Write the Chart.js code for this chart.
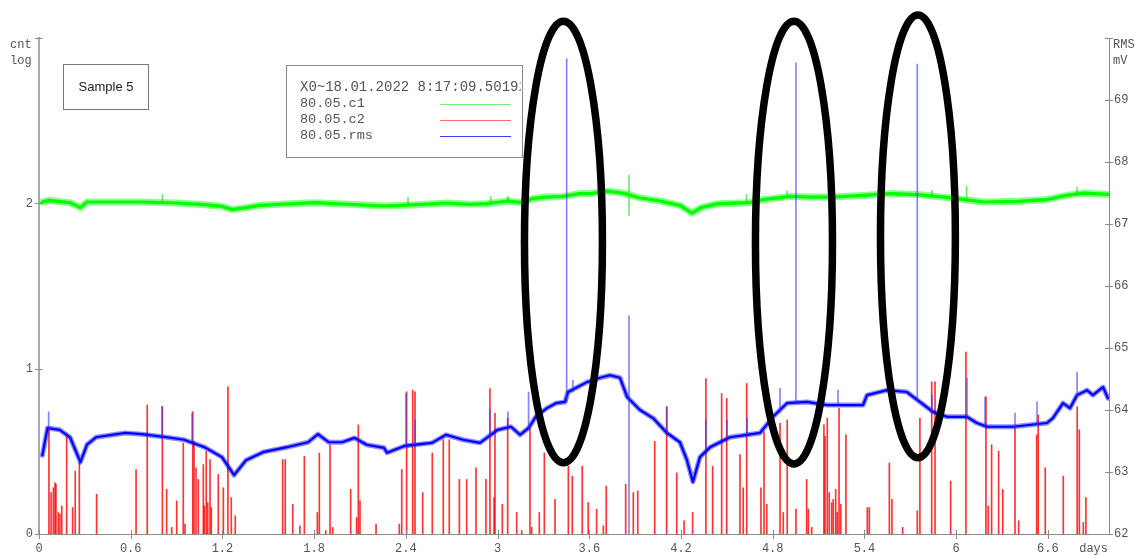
<!DOCTYPE html>
<html>
<head>
<meta charset="utf-8">
<script src="https://cdn.jsdelivr.net/npm/chart.js@4/dist/chart.umd.min.js"></script>
<style>
  html, body { margin: 0; padding: 0; background: #fff; }
  #wrap { width: 1135px; height: 555px; position: relative; }
</style>
</head>
<body>
<div id="wrap"><canvas id="c" width="1135" height="555"></canvas></div>
<script>
// Time axis: days since X0
const xTicks = [0, 0.6, 1.2, 1.8, 2.4, 3, 3.6, 4.2, 4.8, 5.4, 6, 6.6];
// Left axis: log10 of counts
const cntTicks = [0, 1, 2, 3];
// Right axis: RMS in mV
const rmsTicks = [62, 63, 64, 65, 66, 67, 68, 69, 70];

const seriesNames = ['80.05.c1', '80.05.c2', '80.05.rms'];
const startStamp = 'X0~18.01.2022 8:17:09.50192';
const sampleName = 'Sample 5';

// 80.05.c1 — log counts [day, value]
const c1Trace = [
  [0.022, 2.008], [0.065, 2.018], [0.203, 2.004], [0.271, 1.974], [0.314, 2.008],
  [0.451, 2.008], [0.676, 2.008], [0.903, 2.002], [1.083, 1.992], [1.196, 1.982],
  [1.263, 1.962], [1.354, 1.974], [1.444, 1.988], [1.577, 1.994], [1.806, 2.004],
  [2.028, 1.994], [2.256, 1.984], [2.479, 1.992], [2.663, 2.002], [2.820, 1.994],
  [2.931, 1.998], [3.068, 2.014], [3.158, 2.004], [3.225, 2.028], [3.317, 2.038],
  [3.428, 2.042], [3.537, 2.059], [3.609, 2.059], [3.722, 2.074], [3.834, 2.059],
  [3.925, 2.034], [4.061, 2.014], [4.193, 1.988], [4.272, 1.941], [4.331, 1.974],
  [4.442, 1.998], [4.645, 2.004], [4.736, 2.022], [4.918, 2.042], [5.050, 2.038],
  [5.188, 2.038], [5.391, 2.048], [5.572, 2.059], [5.750, 2.053], [5.953, 2.034],
  [6.181, 2.008], [6.405, 2.012], [6.588, 2.022], [6.723, 2.048], [6.835, 2.062],
  [6.993, 2.054]
];
// short excursions of c1 [day, low, high]
const c1Spikes = [
  [0.808, 2.004, 2.054], [2.414, 1.992, 2.038], [2.955, 1.998, 2.042], [3.068, 2.010, 2.042],
  [3.860, 1.927, 2.169], [4.629, 2.004, 2.054], [4.893, 2.040, 2.074], [5.842, 2.040, 2.078],
  [6.068, 2.008, 2.103], [6.791, 2.050, 2.098]
];

// 80.05.c2 — log counts [day, value]
const c2Counts = [
  [0.065, 0.63], [0.079, 0.25], [0.094, 0.28], [0.105, 0.31], [0.111, 0.30], [0.126, 0.13],
  [0.137, 0.12], [0.149, 0.17], [0.181, 0.59], [0.220, 0.16], [0.237, 0.38], [0.264, 0.43],
  [0.377, 0.24], [0.635, 0.39], [0.708, 0.78], [0.807, 0.77], [0.835, 0.27], [0.868, 0.04],
  [0.901, 0.20], [0.944, 0.55], [0.955, 0.06], [1.006, 0.74], [1.014, 0.56], [1.027, 0.40],
  [1.042, 0.33], [1.075, 0.42], [1.081, 0.17], [1.094, 0.50], [1.104, 0.19], [1.119, 0.45],
  [1.127, 0.16], [1.173, 0.36], [1.206, 0.28], [1.236, 0.89], [1.258, 0.22], [1.284, 0.11],
  [1.594, 0.45], [1.611, 0.45], [1.660, 0.18], [1.707, 0.05], [1.736, 0.47], [1.821, 0.13],
  [1.834, 0.49], [1.876, 0.02], [1.904, 0.54], [1.921, 0.04], [2.039, 0.27], [2.078, 0.10],
  [2.089, 0.66], [2.100, 0.20], [2.205, 0.06], [2.357, 0.06], [2.373, 0.39], [2.405, 0.86],
  [2.445, 0.87], [2.460, 0.86], [2.510, 0.25], [2.573, 0.49], [2.645, 0.57], [2.684, 0.57],
  [2.750, 0.33], [2.798, 0.33], [2.859, 0.40], [2.924, 0.33], [2.950, 0.88], [2.977, 0.22],
  [2.983, 0.73], [3.031, 0.18], [3.066, 0.70], [3.125, 0.13], [3.158, 0.02], [3.212, 0.64],
  [3.223, 0.04], [3.273, 0.13], [3.306, 0.49], [3.376, 0.21], [3.463, 0.41], [3.489, 0.35],
  [3.554, 0.41], [3.593, 0.19], [3.648, 0.15], [3.692, 0.05], [3.711, 0.29], [3.838, 0.30],
  [3.888, 0.25], [3.917, 0.26], [4.028, 0.56], [4.106, 0.77], [4.172, 0.37], [4.220, 0.08],
  [4.276, 0.13], [4.363, 0.94], [4.407, 0.41], [4.466, 0.85], [4.499, 0.82], [4.586, 0.48],
  [4.607, 0.28], [4.630, 0.91], [4.723, 0.28], [4.743, 0.62], [4.761, 0.18], [4.848, 0.67],
  [4.869, 0.13], [4.895, 0.69], [4.952, 0.15], [5.022, 0.33], [5.033, 0.15], [5.055, 0.04],
  [5.135, 0.66], [5.142, 0.59], [5.157, 0.70], [5.170, 0.25], [5.186, 0.19], [5.196, 0.21],
  [5.212, 0.27], [5.222, 0.13], [5.234, 0.76], [5.245, 0.18], [5.279, 0.60], [5.419, 0.16],
  [5.432, 0.16], [5.563, 0.43], [5.580, 0.21], [5.650, 0.04], [5.746, 0.14], [5.763, 0.70],
  [5.840, 0.92], [5.862, 0.92], [5.964, 0.32], [6.064, 1.10], [6.195, 0.83], [6.210, 0.17],
  [6.232, 0.54], [6.278, 0.50], [6.305, 0.27], [6.385, 0.64], [6.409, 0.08], [6.527, 0.60],
  [6.537, 0.72], [6.583, 0.40], [6.701, 0.35], [6.792, 0.77], [6.806, 0.63], [6.832, 0.07],
  [6.849, 0.22]
];

// 80.05.rms — mV [day, value]
const rmsTrace = [
  [0.022, 63.27], [0.056, 63.71], [0.135, 63.68], [0.203, 63.56], [0.271, 63.16], [0.314, 63.44],
  [0.373, 63.56], [0.563, 63.63], [0.674, 63.61], [0.835, 63.56], [0.949, 63.52], [1.083, 63.40],
  [1.197, 63.24], [1.276, 62.95], [1.354, 63.19], [1.465, 63.32], [1.622, 63.40], [1.760, 63.48],
  [1.825, 63.61], [1.895, 63.48], [1.982, 63.48], [2.064, 63.55], [2.143, 63.44], [2.257, 63.39],
  [2.277, 63.31], [2.391, 63.42], [2.571, 63.47], [2.663, 63.60], [2.774, 63.52], [2.885, 63.47],
  [3.000, 63.68], [3.088, 63.73], [3.147, 63.60], [3.203, 63.71], [3.249, 63.89], [3.323, 64.03],
  [3.382, 64.11], [3.441, 64.13], [3.461, 64.29], [3.585, 64.45], [3.670, 64.52], [3.735, 64.56],
  [3.801, 64.52], [3.847, 64.21], [3.932, 64.00], [4.017, 63.87], [4.108, 63.63], [4.193, 63.48],
  [4.239, 63.19], [4.278, 62.84], [4.324, 63.24], [4.390, 63.40], [4.520, 63.56], [4.632, 63.60],
  [4.717, 63.63], [4.802, 63.89], [4.893, 64.11], [5.024, 64.13], [5.155, 64.08], [5.391, 64.08],
  [5.417, 64.24], [5.548, 64.32], [5.678, 64.29], [5.763, 64.13], [5.848, 63.97], [5.940, 63.89],
  [6.071, 63.89], [6.136, 63.79], [6.202, 63.73], [6.372, 63.73], [6.594, 63.79], [6.633, 63.87],
  [6.699, 64.11], [6.745, 64.03], [6.791, 64.24], [6.856, 64.32], [6.895, 64.24], [6.961, 64.37],
  [6.993, 64.19]
];
// short excursions of rms [day, low, high]
const rmsSpikes = [
  [0.063, 63.71, 63.97], [0.805, 63.58, 64.06], [1.001, 63.50, 63.95], [2.401, 63.42, 64.27],
  [2.460, 63.44, 63.85], [2.950, 63.56, 64.00], [3.068, 63.71, 63.97], [3.203, 63.71, 64.29],
  [3.452, 64.13, 69.67], [3.493, 64.29, 64.48], [3.860, 62.00, 65.52], [4.108, 63.63, 64.05],
  [4.363, 63.35, 63.84], [4.501, 63.55, 63.84], [4.632, 63.60, 63.87], [4.848, 63.97, 64.35],
  [4.952, 64.13, 69.60], [5.227, 64.08, 64.32], [5.746, 64.16, 69.58], [5.842, 63.97, 64.24],
  [6.071, 63.89, 64.52], [6.189, 63.74, 64.21], [6.385, 63.73, 63.95], [6.529, 63.76, 64.13],
  [6.791, 64.23, 64.61]
];

// hand-drawn rings around the three rms peaks [day, mV, half-width days, half-height mV]
const rings = [
  [3.431, 66.71, 0.255, 3.56],
  [4.939, 66.70, 0.252, 3.57],
  [5.750, 66.80, 0.245, 3.57]
];

const mono = "'Liberation Mono', 'DejaVu Sans Mono', monospace";
const axisGrey = '#8c8c8c';
const textGrey = '#555';

const pts = a => a.map(([x, y]) => ({ x, y }));
const spans = a => a.map(([x, lo, hi]) => ({ x, y: [lo, hi] }));

// tick marks crossing each axis line, plus the boxed texts and the rings
const decor = {
  id: 'decor',
  afterDraw(chart) {
    const { ctx, chartArea: ca, scales } = chart;
    const sx = scales.x, yl = scales.yL, yr = scales.yR;
    ctx.save();
    ctx.strokeStyle = axisGrey;
    ctx.lineWidth = 1;
    ctx.beginPath();
    xTicks.forEach(v => {
      const px = Math.round(sx.getPixelForValue(v)) + 0.5;
      ctx.moveTo(px, ca.bottom - 4); ctx.lineTo(px, ca.bottom + 5);
    });
    cntTicks.forEach(v => {
      const py = Math.round(yl.getPixelForValue(v)) + 0.5;
      ctx.moveTo(ca.left - 4, py); ctx.lineTo(ca.left + 4, py);
    });
    rmsTicks.forEach(v => {
      const py = Math.round(yr.getPixelForValue(v)) + 0.5;
      ctx.moveTo(ca.right - 4, py); ctx.lineTo(ca.right + 4, py);
    });
    ctx.stroke();

    // axis titles
    ctx.fillStyle = textGrey;
    ctx.font = '12px ' + mono;
    ctx.textBaseline = 'middle';
    ctx.textAlign = 'left';
    ctx.fillText('cnt', 10, 45);
    ctx.fillText('log', 10, 61);
    ctx.fillText('RMS', ca.right + 4, 45);
    ctx.fillText('mV', ca.right + 4, 61);
    ctx.textAlign = 'right';
    ctx.fillText('days', ca.right - 1, 549);

    // sample box
    ctx.strokeStyle = '#777';
    ctx.lineWidth = 1;
    ctx.strokeRect(63.5, 64.5, 85, 45);
    ctx.fillStyle = '#222';
    ctx.font = "13px 'Liberation Sans', Arial, sans-serif";
    ctx.textAlign = 'center';
    ctx.fillText(sampleName, 106, 87);

    // series box
    const bx = 286.5, by = 65.5, bw = 236, bh = 92;
    ctx.strokeStyle = '#888';
    ctx.strokeRect(bx, by, bw, bh);
    ctx.save();
    ctx.beginPath();
    ctx.rect(bx, by, bw - 2, bh);
    ctx.clip();
    ctx.fillStyle = textGrey;
    ctx.font = '14px ' + mono;
    ctx.textAlign = 'left';
    ctx.fillText(startStamp, 300, 87);
    ctx.restore();
    const rowColors = ['rgb(120,235,120)', 'rgb(255,110,110)', 'rgb(60,60,255)'];
    ctx.font = '13.5px ' + mono;
    ctx.textAlign = 'left';
    seriesNames.forEach((name, i) => {
      const ty = 103 + i * 16;
      ctx.fillStyle = textGrey;
      ctx.fillText(name, 300, ty);
      ctx.strokeStyle = rowColors[i];
      ctx.lineWidth = 1.2;
      ctx.beginPath();
      ctx.moveTo(440, ty + 1.5); ctx.lineTo(511, ty + 1.5);
      ctx.stroke();
    });

    // rings
    ctx.strokeStyle = '#000';
    ctx.lineWidth = 7.5;
    rings.forEach(([d, mv, hw, hh]) => {
      const cx = sx.getPixelForValue(d), cy = yr.getPixelForValue(mv);
      const rx = sx.getPixelForValue(d + hw) - cx;
      const ry = cy - yr.getPixelForValue(mv + hh);
      ctx.beginPath();
      ctx.ellipse(cx, cy, rx, ry, 0, 0, Math.PI * 2);
      ctx.stroke();
    });
    ctx.restore();
  }
};

const lineStyle = { type: 'line', pointRadius: 0, tension: 0, borderJoinStyle: 'round', borderCapStyle: 'round' };

new Chart(document.getElementById('c'), {
  type: 'line',
  data: {
    datasets: [
      { label: seriesNames[2] + ' peaks', type: 'bar', data: spans(rmsSpikes), yAxisID: 'yR',
        backgroundColor: 'rgba(50,50,255,0.6)', barThickness: 1, grouped: false, borderWidth: 0, order: 0 },
      { ...lineStyle, label: seriesNames[2], data: pts(rmsTrace), yAxisID: 'yR',
        borderColor: '#0000ff', borderWidth: 2.2, order: 1 },
      { ...lineStyle, label: seriesNames[2] + ' band', data: pts(rmsTrace), yAxisID: 'yR',
        borderColor: 'rgba(0,0,255,0.45)', borderWidth: 5, order: 1.5 },
      { label: seriesNames[1], type: 'bar', data: pts(c2Counts), yAxisID: 'yL',
        backgroundColor: 'rgba(255,0,0,0.8)', barThickness: 1, grouped: false, borderWidth: 0, order: 2 },
      { label: seriesNames[0] + ' peaks', type: 'bar', data: spans(c1Spikes), yAxisID: 'yL',
        backgroundColor: 'rgba(0,230,0,0.6)', barThickness: 1, grouped: false, borderWidth: 0, order: 3 },
      { ...lineStyle, label: seriesNames[0], data: pts(c1Trace), yAxisID: 'yL',
        borderColor: '#00ff00', borderWidth: 3.2, order: 4 },
      { ...lineStyle, label: seriesNames[0] + ' band', data: pts(c1Trace), yAxisID: 'yL',
        borderColor: 'rgba(0,255,0,0.45)', borderWidth: 7, order: 4.5 }
    ]
  },
  options: {
    responsive: false,
    animation: false,
    events: [],
    layout: { padding: { top: 38, left: 0, right: 0, bottom: 0 } },
    plugins: { legend: { display: false }, tooltip: { enabled: false }, title: { display: false } },
    scales: {
      x: {
        type: 'linear', min: 0, max: 7, offset: false,
        grid: { display: false, drawTicks: false },
        border: { display: true, color: axisGrey, width: 1 },
        ticks: { font: { family: mono, size: 12 }, color: textGrey, padding: 8, maxRotation: 0, autoSkip: false,
                 callback: v => String(+Number(v).toFixed(1)) },
        afterBuildTicks: s => { s.ticks = xTicks.map(v => ({ value: v })); },
        afterFit: s => { s.height = 21; }
      },
      yL: {
        type: 'linear', position: 'left', min: 0, max: 3,
        grid: { display: false, drawTicks: false },
        border: { display: true, color: '#aaa', width: 2 },
        ticks: { font: { family: mono, size: 12 }, color: textGrey, padding: 6,
                 callback: v => (v === 3 ? '' : String(v)) },
        afterBuildTicks: s => { s.ticks = cntTicks.map(v => ({ value: v })); },
        afterFit: s => { s.width = 39; }
      },
      yR: {
        type: 'linear', position: 'right', min: 62, max: 70,
        grid: { display: false, drawTicks: false },
        border: { display: true, color: axisGrey, width: 1 },
        ticks: { font: { family: mono, size: 12 }, color: textGrey, padding: 5,
                 callback: v => (v === 70 ? '' : String(v)) },
        afterBuildTicks: s => { s.ticks = rmsTicks.map(v => ({ value: v })); },
        afterFit: s => { s.width = 26; }
      }
    }
  },
  plugins: [decor]
});
</script>
</body>
</html>
